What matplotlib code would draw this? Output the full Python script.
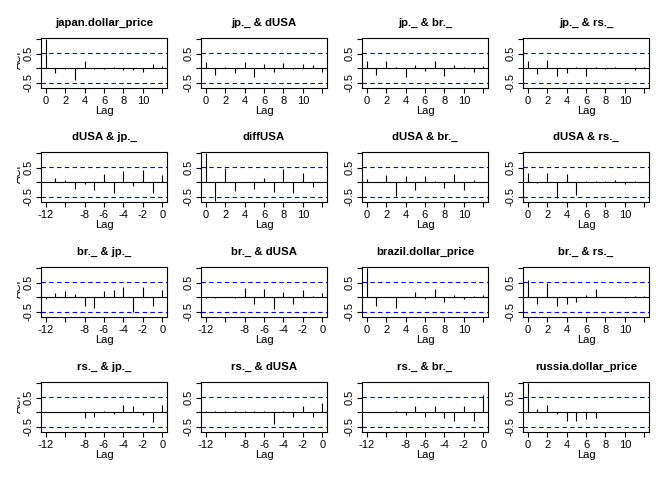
import matplotlib
matplotlib.use("Agg")
import matplotlib.pyplot as plt
from matplotlib.transforms import Bbox

plt.rcParams['font.family'] = ['Liberation Sans', 'DejaVu Sans']

titles = [
    ["japan.dollar_price", "jp._ & dUSA", "jp._ & br._", "jp._ & rs._"],
    ["dUSA & jp._", "diffUSA", "dUSA & br._", "dUSA & rs._"],
    ["br._ & jp._", "br._ & dUSA", "brazil.dollar_price", "br._ & rs._"],
    ["rs._ & jp._", "rs._ & dUSA", "rs._ & br._", "russia.dollar_price"],
]

lags_pos = list(range(0, 13))
lags_neg = list(range(-12, 1))

# row 1 (lags 0..12)
jp_jp = [1.0, -0.15, -0.03, -0.40, 0.26, -0.03, -0.02, 0.03, -0.05, -0.06, -0.12, 0.15, 0.08]
jp_us = [0.23, -0.23, 0.05, -0.17, 0.22, -0.29, 0.15, -0.13, 0.17, -0.03, 0.15, 0.12, -0.12]
jp_br = [0.25, -0.23, 0.25, 0.03, -0.32, 0.10, -0.09, 0.25, -0.26, 0.10, 0.05, -0.14, 0.08]
jp_rs = [0.25, -0.20, 0.29, -0.26, -0.15, 0.05, -0.26, 0.05, -0.02, 0.05, 0.02, -0.05, 0.05]
# row 2
us_jp = [0.02, 0.15, 0.07, -0.24, -0.05, -0.28, 0.29, -0.37, 0.39, -0.13, 0.43, -0.37, 0.24]   # lags -12..0
us_us = [1.0, -0.64, 0.50, -0.30, 0.02, -0.24, 0.14, -0.33, 0.46, -0.37, 0.32, -0.16, 0.02]
us_br = [0.10, 0.02, 0.24, -0.48, 0.21, -0.28, 0.21, 0.03, -0.20, 0.29, -0.28, 0.07, 0.01]
us_rs = [0.33, -0.02, 0.33, -0.53, 0.29, -0.43, 0.03, 0.03, 0.03, 0.06, -0.05, 0.03, 0.01]
# row 3
br_jp = [-0.05, 0.16, 0.22, 0.10, -0.32, -0.39, 0.22, 0.25, 0.37, -0.51, 0.37, -0.32, 0.25]  # lags -12..0
br_us = [-0.02, -0.02, 0.02, -0.03, 0.32, -0.25, 0.29, -0.41, 0.18, -0.25, 0.26, 0.05, 0.13]  # lags -12..0
br_br = [1.0, -0.32, 0.02, -0.36, 0.0, 0.18, -0.07, 0.29, -0.16, 0.08, -0.07, 0.05, 0.08]
br_rs = [0.61, -0.22, 0.49, -0.32, -0.23, -0.18, 0.08, 0.29, 0.0, 0.0, -0.03, 0.03, 0.04]
# row 4
rs_jp = [0.0, 0.0, 0.0, 0.02, -0.20, -0.15, 0.05, -0.05, 0.25, 0.20, -0.10, -0.35, 0.25]   # lags -12..0
rs_us = [0.03, 0.03, 0.03, 0.03, 0.03, 0.03, 0.05, -0.40, 0.05, -0.15, 0.20, -0.15, 0.33]  # lags -12..0
rs_br = [0.0, 0.0, 0.0, 0.05, -0.10, 0.20, -0.15, 0.20, -0.20, -0.30, 0.20, -0.30, 0.61]  # lags -12..0
rs_rs = [1.0, 0.10, 0.25, -0.05, -0.30, -0.30, -0.25, -0.20, 0.02, 0.02, 0.02, 0.02, 0.02]

values = [
    [jp_jp, jp_us, jp_br, jp_rs],
    [us_jp, us_us, us_br, us_rs],
    [br_jp, br_us, br_br, br_rs],
    [rs_jp, rs_us, rs_br, rs_rs],
]

clim = 0.52
W, H = 672, 480
fig = plt.figure(figsize=(W / 100, H / 100), dpi=100)

lefts = [41, 201, 362, 523]
tops = [38, 152, 267, 382]
bw, bh = 126, 50

for r in range(4):
    for c in range(4):
        ax = fig.add_axes([lefts[c] / W, 1 - (tops[r] + bh) / H, bw / W, bh / H])
        neg = c < r
        lags = lags_neg if neg else lags_pos
        ax.vlines(lags, 0, values[r][c], color="black", lw=0.8)
        ax.axhline(0, color="black", lw=0.8)
        ax.axhline(clim, color="blue", lw=0.8, ls=(0, (4, 3)))
        ax.axhline(-clim, color="blue", lw=0.8, ls=(0, (4, 3)))
        if neg:
            ax.set_xlim(-12.48, 0.48)
            ax.set_xticks([-12, -10, -8, -6, -4, -2, 0])
            ax.set_xticklabels(["-12", "", "-8", "-6", "-4", "-2", "0"])
        else:
            ax.set_xlim(-0.48, 12.48)
            ax.set_xticks([0, 2, 4, 6, 8, 10, 12])
            ax.set_xticklabels(["0", "2", "4", "6", "8", "10", ""])
        ax.set_ylim(-0.685, 1.045)
        ax.set_yticks([-0.5, 0, 0.5, 1.0])
        ax.set_yticklabels(["-0.5", "", "0.5", ""], rotation=90, va="center")
        ax.tick_params(direction="out", length=3.5, width=0.8, labelsize=8, pad=2)
        for s in ax.spines.values():
            s.set_linewidth(0.8)
        ax.set_title(titles[r][c], fontsize=8.2, fontweight="bold", pad=8.5)
        ax.set_xlabel("Lag", fontsize=8, labelpad=0.5)
        if c == 0:
            t = fig.text(18 / W, 1 - (tops[r] + 20) / H, "ACF", rotation=90,
                         ha="center", va="center", fontsize=8, clip_on=True)
            t.set_clip_box(Bbox([[16.5, 0], [40, H]]))

fig.savefig("out.png", dpi=100)
